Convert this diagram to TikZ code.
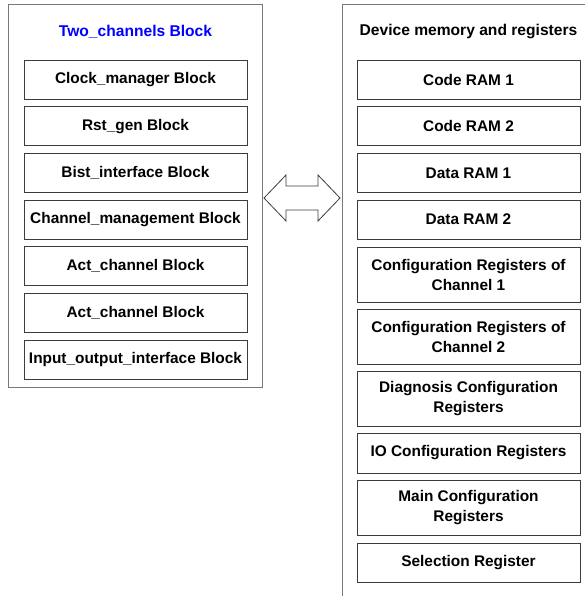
\documentclass[tikz,border=0pt]{standalone}
\usepackage{fontspec}
\setmainfont{Liberation Sans}
\definecolor{framegray}{RGB}{120,120,120}
\definecolor{boxgray}{RGB}{60,60,60}
\tikzset{
  unit/.style={draw=boxgray, line width=0.9pt, minimum width=223, minimum height=39,
    align=center, inner sep=0pt, font=\fontsize{15.4}{20}\selectfont\bfseries},
  tallunit/.style={unit, minimum height=55},
  frame/.style={draw=framegray, line width=1pt}
}
\begin{document}
\begin{tikzpicture}[x=1pt, y=-1pt]
        \useasboundingbox (0,0) rectangle (585,596);

        % left frame
        \draw[frame] (8,5) rectangle (262,387);
        \node[font=\fontsize{15.6}{20}\selectfont\bfseries, text=blue] (twotitle) at (135.5,32) {Two\_channels Block};
        \node[unit] (clk) at (135.5,79.5) {Clock\_manager Block};
        \node[unit] (rst) at (135.5,126.2) {Rst\_gen Block};
        \node[unit] (bist) at (135.5,172.8) {Bist\_interface Block};
        \node[unit] (chmgmt) at (135.5,219.5) {Channel\_management Block};
        \node[unit] (actone) at (135.5,266.2) {Act\_channel Block};
        \node[unit] (acttwo) at (135.5,312.8) {Act\_channel Block};
        \node[unit] (iobl) at (135.5,359.5) {Input\_output\_interface Block};

        % right frame, runs off the page
        \draw[frame] (585,5) -- (342,5) -- (342,596);
        \node[font=\fontsize{15.6}{20}\selectfont\bfseries] (devtitle) at (468.5,32) {Device memory and registers};
        \node[unit] (coderamone) at (468.5,79.5) {Code RAM 1};
        \node[unit] (coderamtwo) at (468.5,126.2) {Code RAM 2};
        \node[unit] (dataramone) at (468.5,172.8) {Data RAM 1};
        \node[unit] (dataramtwo) at (468.5,219.5) {Data RAM 2};
        \node[tallunit] (cfgone) at (468.5,274.5) {Configuration Registers of\\Channel 1};
        \node[tallunit] (cfgtwo) at (468.5,336.5) {Configuration Registers of\\Channel 2};
        \node[tallunit] (diag) at (468.5,398.5) {Diagnosis Configuration\\Registers};
        \node[unit, minimum height=40] (iocfg) at (468.5,453) {IO Configuration Registers};
        \node[tallunit] (maincfg) at (468.5,507.5) {Main Configuration\\Registers};
        \node[unit] (selreg) at (468.5,562.5) {Selection Register};

        % double arrow between the frames
        \draw[draw=boxgray, line width=0.8pt, fill=white] (264,198) -- (286,175) -- (286,186) -- (318,186)
        -- (318,175) -- (340,198) -- (318,221) -- (318,210) -- (286,210) -- (286,221) -- cycle;
    \end{tikzpicture}
\end{document}
